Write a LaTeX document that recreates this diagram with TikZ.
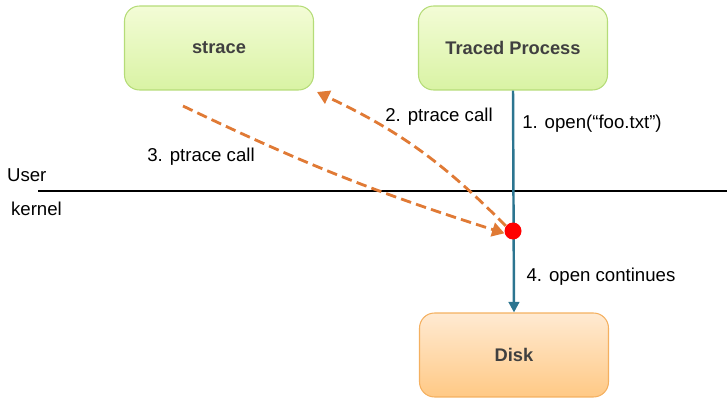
\documentclass[tikz,border=0pt]{standalone}
\usepackage{fontspec}
\setmainfont{Liberation Sans}
\usetikzlibrary{arrows.meta}
\definecolor{txtgray}{HTML}{404040}
\definecolor{greenedge}{HTML}{B5DC78}
\definecolor{greentop}{HTML}{F3FCD6}
\definecolor{greenbot}{HTML}{D9F3A4}
\definecolor{orangeedge}{HTML}{F4B060}
\definecolor{orangetop}{HTML}{FFEAD2}
\definecolor{orangebot}{HTML}{FFC985}
\definecolor{callorange}{HTML}{E07A35}
\definecolor{flowblue}{HTML}{2C7590}
\begin{document}
\begin{tikzpicture}[x=0.02cm, y=-0.02cm,
    box/.style={rounded corners=0.3cm, minimum width=3.78cm, minimum height=1.68cm,
        inner sep=0pt, font=\fontsize{10.4}{12}\selectfont\bfseries, text=txtgray, line width=0.6pt},
    greenbox/.style={box, draw=greenedge, top color=greentop, bottom color=greenbot},
    orangebox/.style={box, draw=orangeedge, top color=orangetop, bottom color=orangebot},
    call/.style={callorange, line width=1.6pt, dash pattern=on 6pt off 3pt, -{Triangle[length=7pt, width=8pt]}},
    lbl/.style={font=\fontsize{10.6}{12}\selectfont}]
    \useasboundingbox (0,0) rectangle (727,398);

    % Boxes
    \node[greenbox] (strace) at (219,48) {strace};
    \node[greenbox] (traced) at (513,48) {Traced Process};
    \node[orangebox] (disk) at (514,355) {Disk};

    % User / kernel boundary
    \coordinate (sepL) at (38,191);
    \coordinate (sepR) at (727,191);
    \draw[line width=1.2pt] (sepL) -- (sepR);
    \node[lbl, anchor=south west, inner sep=1pt] (user) at (5,184) {User};
    \node[lbl, anchor=north west, inner sep=1pt] (kernel) at (9,200) {kernel};

    % System call flow
    \draw[flowblue, line width=1.4pt, -{Triangle[length=6pt, width=6pt]}] (traced.south) -- (disk.north);
    \node[circle, fill=red, inner sep=0pt, minimum size=0.34cm] (dot) at (513,231) {};

    % ptrace calls
    \coordinate (from3) at (183,106);
    \coordinate (to2) at (317,92);
    \draw[call] (dot.145) to[bend right=10] (to2);
    \draw[call] (from3) to[bend right=4] (dot.195);

    % Labels
    \node[lbl] (l1) at (592,124) {1. open(“foo.txt”)};
    \node[lbl] (l2) at (439,117) {2. ptrace call};
    \node[lbl] (l3) at (201,157) {3. ptrace call};
    \node[lbl] (l4) at (601,277) {4. open continues};
\end{tikzpicture}
\end{document}
